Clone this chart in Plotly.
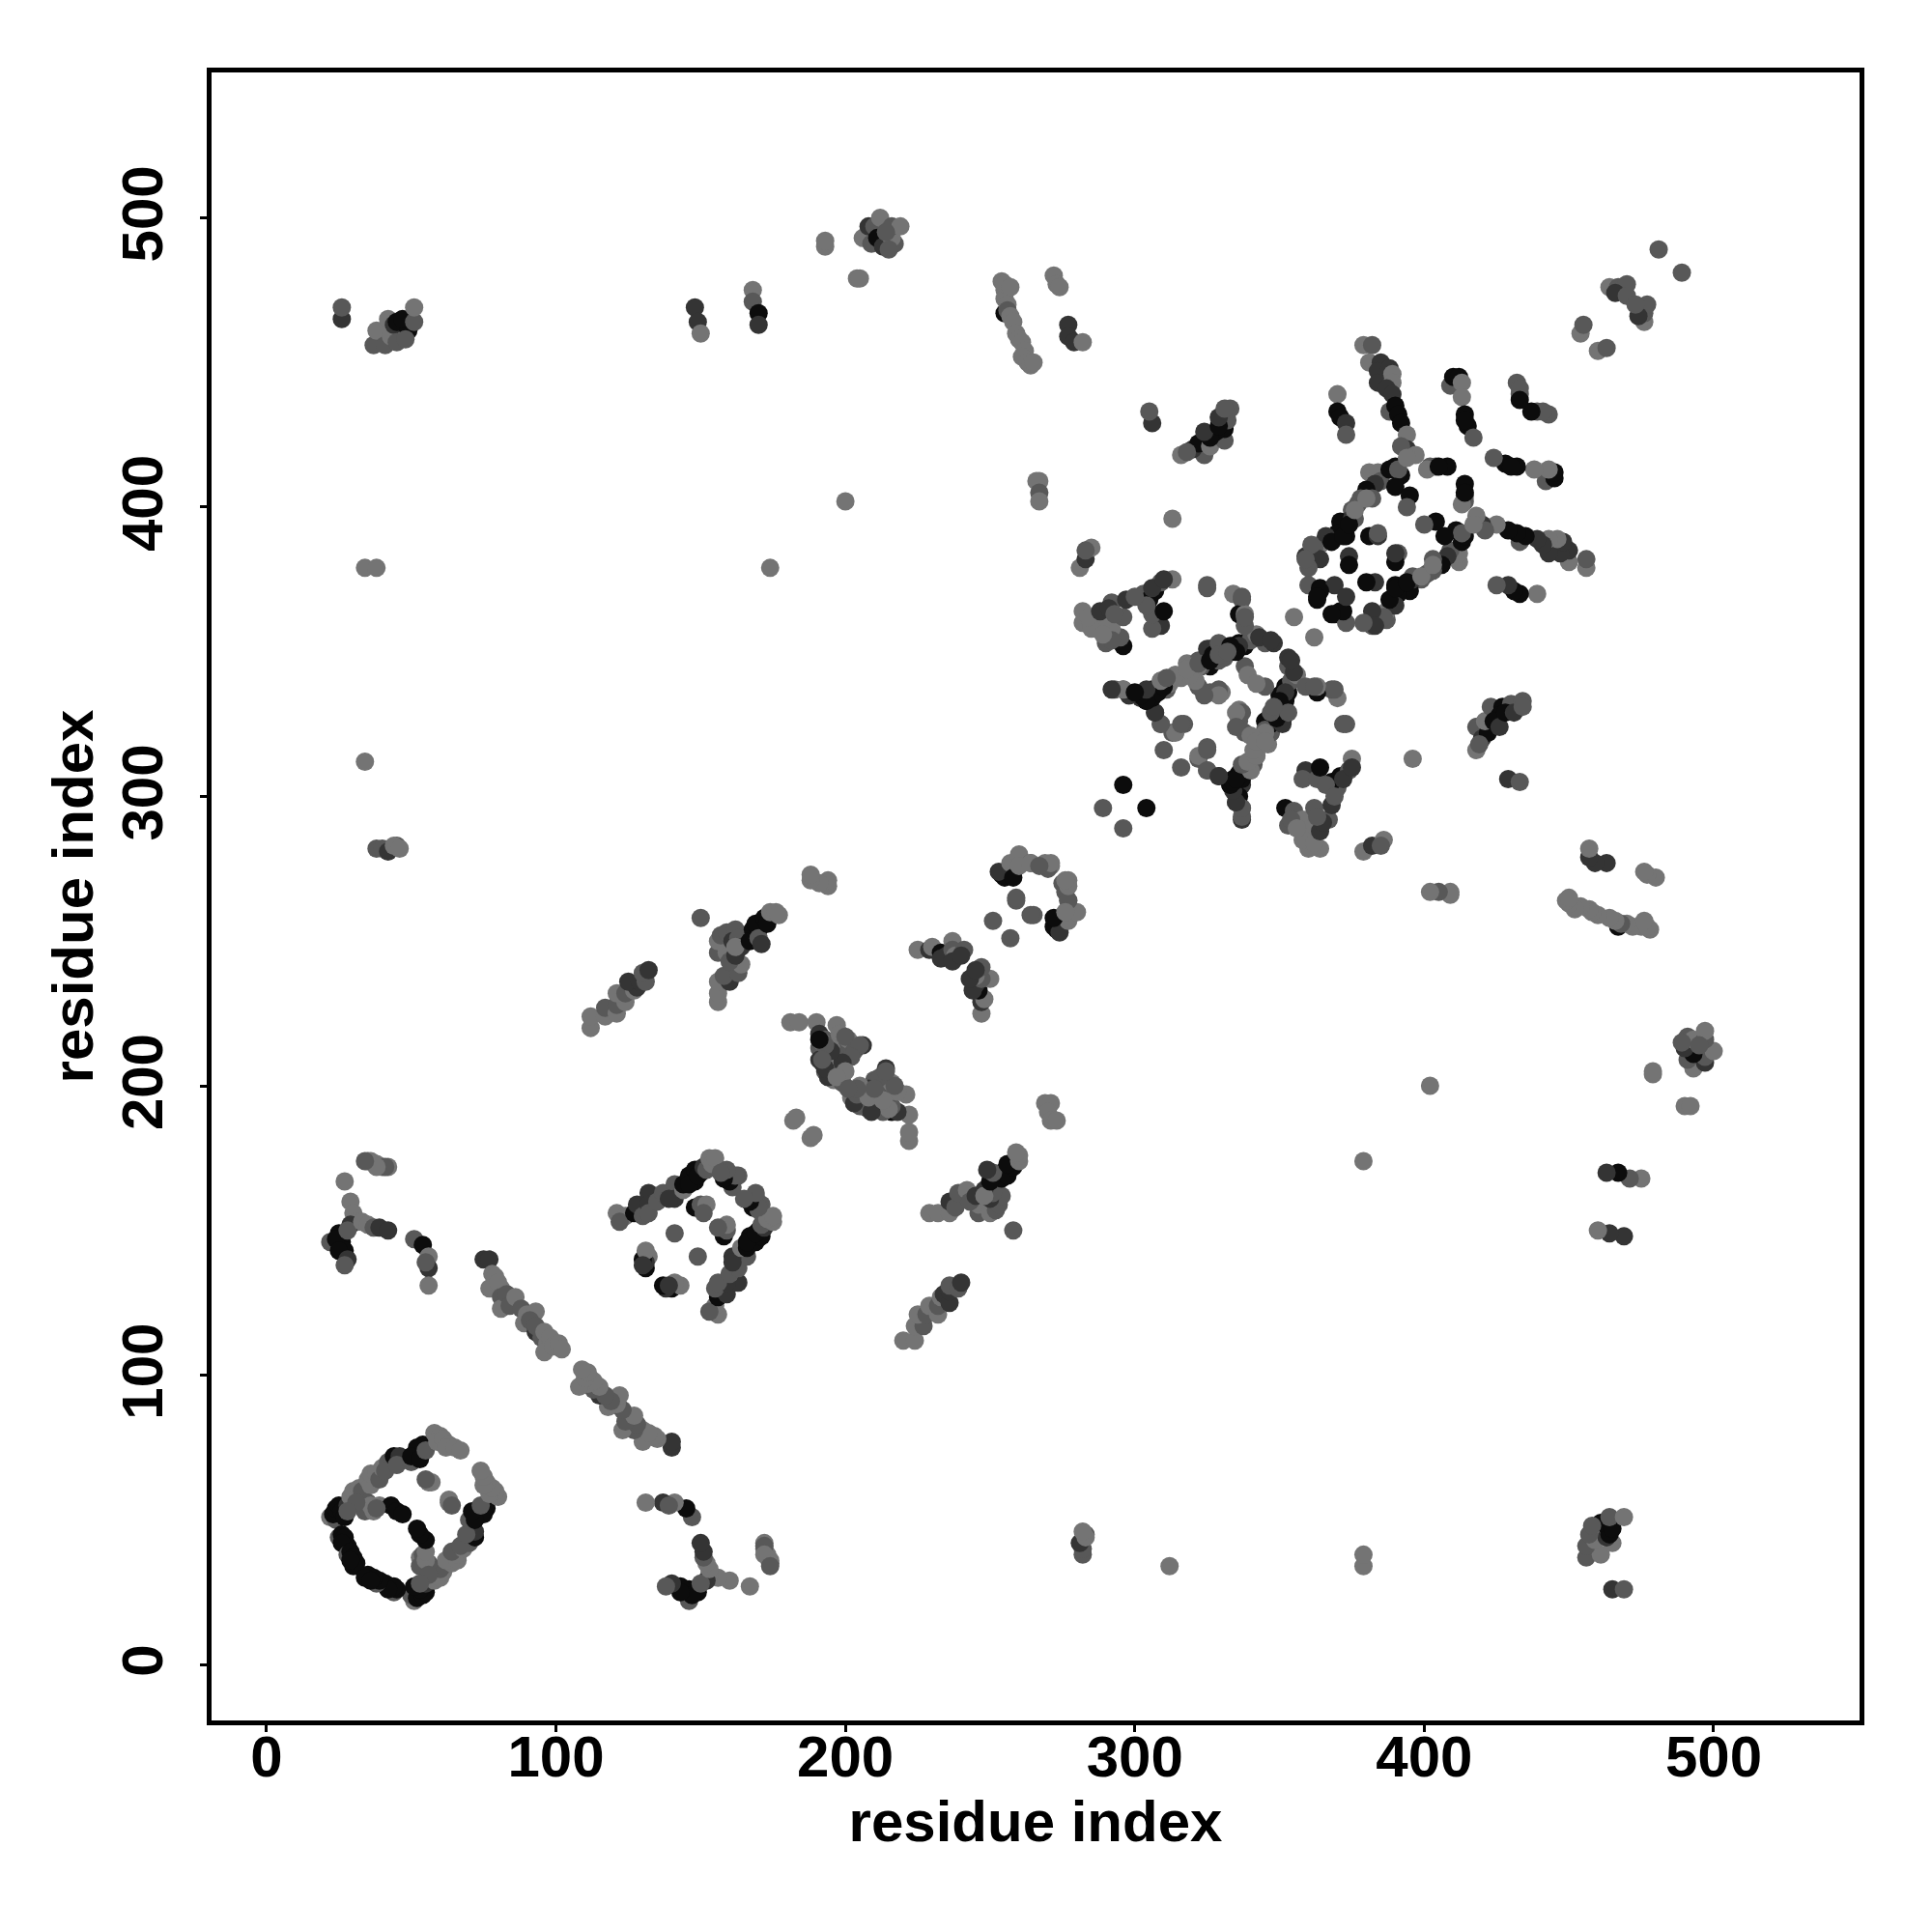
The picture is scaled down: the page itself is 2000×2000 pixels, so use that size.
import plotly.graph_objects as go

# contact pairs: (residue i, residue j, shade level); each contact is shown at (i, j) and (j, i)
shades = ["rgb(116,116,116)", "rgb(88,88,88)", "rgb(52,52,52)", "rgb(12,12,12)"]

ring_a = [(22,51,0),(24,50,1),(23,52,3),(24,54,3),(25,55,3),(26,53,3),(27,51,3),(28,55,2),(25,44,1),(26,45,3),(27,43,3),(28,41,3),(27,44,3),(26,42,3),(28,38,1),
 (29,39,3),(30,37,3),(31,35,3),(30,34,3),(29,36,3),(29,58,0),(30,60,0),(32,61,0),(33,60,1),(35,64,0),(36,62,0),(36,66,0),(38,66,0),(39,64,1),(40,68,0),(42,70,1),(41,67,1),
 (44,72,3),(47,71,3),(46,72,2),(45,69,1),(50,70,1),(52,72,2),(53,74,3),(54,76,3),(52,75,3),(50,72,3),(53,71,3),(55,74,1),(58,80,0),(60,79,0),(59,77,0),(61,78,0),(63,76,0),(62,75,0),(65,75,0),(67,74,0),
 (34,53,1),(35,56,1),(36,55,0),(39,55,0),(43,55,3),(45,53,3),(47,52,3),(56,63,0),(57,63,0),(55,64,1),(31,56,1),(28,53,1),(53,37,0),(54,38,1)]
blob_b = [(22,146,1),(25,149,3),(26,146,3),(27,143,3),(24,147,3),(25,143,3),(28,140,2),(27,138,1),(27,167,0),(29,160,0),(30,156,0),(31,153,0),(29,152,2),(28,150,1),(33,153,0),(35,152,0),(37,151,1),
 (39,151,2),(42,150,2),(35,174,1),(36,174,0),(38,173,0),(40,172,0),(42,172,0),(51,147,1),(54,145,3),(56,141,0),(56,137,2),(55,139,1),(56,131,0),
 (41,172,1),(38,172,0),(34,174,1)]
strand = [(75,140,2),(77,140,2),(78,135,0),(79,134,0),(77,130,0),(81,130,0),(80,132,0),(81,127,1),(81,123,0),(83,128,1),(84,124,1),(86,127,0),(88,123,1),(90,121,0),
 (93,122,0),(89,118,0),(91,119,1),(93,115,2),(93,117,1),(95,113,1),(96,115,0),(97,111,0),(98,113,0),(96,108,0),(99,110,0),(101,111,0),(102,109,0)]
ring_c = [(121,156,0),(124,155,0),(122,153,1),(127,156,3),(128,159,2),(130,155,1),(132,163,2),(132,159,2),(132,156,1),(135,160,1),(137,163,1),(141,166,1),(141,161,2),(139,161,2),(144,164,0),
 (144,166,3),(146,169,3),(148,171,3),(148,167,3),(150,170,3),(146,166,3),(149,169,3),(151,172,2),(152,171,1),(153,175,0),(154,173,0),(155,175,0),(158,170,1),(160,167,3),(163,169,1),(161,165,1),
 (167,160,3),(169,162,1),(168,158,3),(171,159,1),(170,157,1),(148,158,3),(150,159,1),(152,159,0),(151,156,1),(141,149,1),(131,137,3),(132,141,0),(131,139,2),(140,130,3),(143,131,0),(138,130,2)]
blob_d = [(220,112,0),(224,112,0),(224,117,0),(227,117,1),(225,121,0),(228,121,1),(229,124,0),(232,121,0),(232,124,1),(233,127,0),
 (234,128,2),(236,125,2),(236,129,2),(236,131,1),(239,130,1),(240,132,2)]
blob_f = [(269,194,0),(271,194,0),(270,191,0),(271,188,0),(273,188,0)]
blob_g = [(182,188,0),(183,189,0),(181,222,0),(184,222,0),(190,222,0),(191,218,2),(197,221,0),(191,213,1),(193,216,1),(192,208,2),(194,210,0),(192,215,0),
 (193,205,1),(191,209,2),(196,202,0),(194,203,2),(197,204,1),(197,214,0),(199,212,1),(201,216,0),(198,218,0),(203,212,1),(206,214,2),(196,208,0),(200,217,1),(195,213,0),
 (205,214,1),(210,202,1),(208,199,2),(212,195,2),(214,193,1),(216,191,3),(206,193,2),(209,192,1),(199,210,1),(199,204,1),(205,200,0),(203,197,0),(199,201,1)]
blob_i = [(150,258,1),(156,229,0),(156,232,0),(156,236,0),(160,236,2),(158,238,1),(163,239,1),(164,242,0),(156,246,1),(159,246,0),(160,243,1),(162,245,2),(156,250,0),(157,252,1),
 (159,253,1),(162,254,1),(161,250,2),(163,251,1),(164,248,2),(162,248,0),(168,254,3),(170,254,3),(169,256,3),(167,250,3),(170,251,1),(171,249,2),(172,258,3),(173,256,3),(174,260,0),(176,260,0),(177,259,0)]
blob_k = [(225,247,0),(229,247,2),(230,248,0),(233,246,3),(235,245,2),(233,244,2),(237,250,0),(237,247,1),(238,245,0),(237,243,2),(241,247,1),(240,245,2)]
ring_l = [(251,257,1),(254,273,3),(256,274,3),(255,272,3),(253,274,2),(257,277,0),(260,280,0),(264,277,1),(269,277,0),(271,276,0),(275,270,1),(277,271,0),
 (277,264,0),(259,264,1),(265,259,1),(258,272,3),(260,276,0),(276,267,1)]
side_n = [(352,296,3),(355,295,1),(353,290,1),(358,292,0),(361,289,0),(360,282,0),(364,282,0),(358,285,0),(354,292,1),(356,289,0),(362,284,0),(362,296,1),(364,288,2),(367,292,1),(365,291,2),(363,293,1),
 (368,297,2),(370,303,1),(359,309,2),(358,306,1),(363,306,1),(368,305,3),(371,307,3),(374,309,1),(375,313,0),(364,310,3),(372,306,2),(375,310,2),(366,304,1),(369,300,1)]
ring_p = [(293,337,1),(296,337,1),(298,335,2),(302,334,2),(304,333,3),(305,334,3),(306,337,3),(307,336,3),(306,335,3),(309,340,0),(311,337,1),(312,339,0),(314,342,0),(316,341,0),
 (318,346,0),(320,344,1),(322,347,1),(325,347,3),(326,345,3),(323,345,1),(326,351,3),(329,351,1),(322,338,1),(326,336,1),(330,336,0),(307,329,2),(309,325,1),(313,322,1),
 (317,325,1),(310,316,1),(314,322,0),(316,325,1),(309,325,1),(307,329,2),(329,337,1),(329,335,0),(322,345,0),(324,335,1),(321,340,0),(319,342,0),
 (334,370,0),(337,368,1),(336,363,3),(338,363,0),(336,353,3),(338,352,3),(334,352,3),(332,350,3),(340,354,1),(342,356,0),(345,353,1),(348,353,2),(338,345,1),(339,342,0),(319,345,0),
 (325,351,2),(327,349,3),(329,347,1),(335,351,3),(336,352,2),(343,355,2),(347,354,2),(338,359,1),(338,362,1),(337,369,1),(325,373,1),(355,362,0),(325,372,1),(333,350,3),(329,353,1),(331,348,1)]
ring_p_core = [(334,306,3),(336,308,3),(333,304,3),(338,310,3),(335,302,3),(337,304,2),(335,298,2),(337,296,0),(336,300,3),(337,292,2),(296,304,3),(289,296,1),(340,309,0),(342,314,0),(341,311,1),(344,318,0),(346,322,1),(347,326,3),(349,329,1),(350,335,3),(352,333,3),(350,332,1)]
ring_o = [(379,456,0),(382,456,1),(381,450,0),(385,450,2),(384,447,2),(384,443,2),(388,448,2),(389,446,0),(389,443,0),(387,441,2),(389,439,2),(388,433,1),(390,435,3),(391,432,3),(392,429,3),(394,425,0),
 (394,420,2),(392,421,1),(397,418,0),(370,439,0),(370,433,3),(371,431,3),(373,429,2),(373,425,1),(409,442,1),(410,445,3),(412,445,3),(413,443,0),(413,438,0),(414,432,3),(415,428,3),(414,430,3),(417,424,1),
 (439,433,1),(443,432,1),(441,433,1),(437,433,3),(381,412,0),(384,412,0),(385,409,1),(383,408,2),(388,413,3),(390,414,3),(392,411,3),(391,413,1),(394,417,0),(390,407,3),(395,404,3),(394,400,1),(380,406,3),(378,403,1),(382,403,1),
 (375,399,1),(377,401,1),(373,393,3),(371,395,3),(370,391,3),(373,390,3),(375,396,2),(364,387,0),(366,390,2),(368,388,3),(362,386,1),(364,382,2),(359,383,2),(360,379,1),(374,383,2),(374,380,3),(381,390,3),(384,390,2),
 (360,373,1),(364,372,3),(363,368,3),(402,414,1),(404,414,1),(408,414,3),(387,361,1),(401,413,0),(391,384,1),(405,414,3),(382,359,1),(371,364,3),(369,363,3),(376,396,1),(369,373,2),(372,390,3),(374,394,3),(376,399,0),(380,403,0)]
spur_q = [(418,316,0),(418,324,1),(420,320,2),(422,322,3),(419,318,1),(421,326,0),(423,331,1),(427,331,3),(426,328,3),(424,326,3),(426,324,2),(430,332,1),(428,329,3),(431,329,2),(434,333,1),(434,331,1)]
top_left = [(26,465,2),(26,469,1),(37,456,1),(38,461,0),(41,456,1),(43,459,0),(42,465,0),(44,463,2),(45,464,3),(45,457,1),(49,461,3),(47,465,3),(48,458,1),(51,464,1),(51,469,0)]
top_mid = [(148,469,2),(149,464,2),(150,460,0),(168,475,0),(168,471,1),(170,467,3),(170,463,2),(193,490,0),(193,492,0),(204,479,0),(205,479,0),
 (206,493,0),(209,491,1),(208,497,2),(210,497,1),(211,493,3),(213,490,2),(212,500,0),(217,491,1),(216,493,0),(215,489,1),(216,497,1),(219,497,0),(214,495,1)]
top_right = [(255,467,3),(254,478,0),(255,475,0),(255,472,0),(255,477,0),(257,476,0),(256,470,0),(256,468,1),(257,466,0),(258,464,0),(259,460,0),(260,458,0),(261,457,0),(262,454,0),(261,452,0),(263,450,0),(264,449,0),(265,450,0),
 (272,480,0),(273,477,0),(274,476,0),(277,463,2),(277,459,2),(279,457,2),(282,457,0)]
strip_s = [(281,379,0),(283,382,2),(285,386,0),(283,385,1),(267,409,0),(266,409,0),(267,405,1),(267,402,0)]
singles = [(200,402,0),(174,379,0),(34,379,0),(38,379,0),(34,312,0),(313,396,0),(38,282,1),(40,282,1),(42,281,2),(45,283,1),(44,283,0),(46,282,0),
 (306,429,2),(305,433,1),(454,460,0),(455,463,1),(481,489,1),(464,476,0),(467,476,1),(470,477,1),(466,474,2),(470,473,1)]

blobs = [ring_a, blob_b, strand, ring_c, blob_d, blob_f, blob_g, blob_i, blob_k, ring_l, side_n, ring_p, ring_p_core,
         ring_o, spur_q, top_left, top_mid, top_right, strip_s, singles]

x, y, c = [], [], []
for blob in blobs:
    for i, j, level in blob:
        x.append(i); y.append(j); c.append(shades[level])
for blob in blobs:
    for i, j, level in blob:
        x.append(j); y.append(i); c.append(shades[level])

x_ticks = [0, 100, 200, 300, 400, 500]
y_ticks = [0, 100, 200, 300, 400, 500]
axis_title = "residue index"

fig = go.Figure(go.Scatter(x=x, y=y, mode="markers", marker=dict(size=19, color=c, line=dict(width=0)), hoverinfo="skip"))
font = dict(family="Liberation Sans, Arial, sans-serif", size=60, color="black", weight="bold")
title_font = dict(font, size=60)
axis = dict(mirror=True, showline=True, linecolor="black", linewidth=5, ticks="outside", ticklen=7, tickwidth=3,
            tickcolor="black", showgrid=False, zeroline=False, tickfont=font, automargin=False)
fig.update_layout(
    width=1984, height=1984, autosize=False, showlegend=False,
    margin=dict(l=211, r=67, t=67, b=211), plot_bgcolor="white", paper_bgcolor="white",
    xaxis=dict(axis, range=[-19.0, 550.4], tickvals=x_ticks, ticklabelstandoff=-26,
               title=dict(text="<b>%s</b>" % axis_title, font=title_font, standoff=8)),
    yaxis=dict(axis, range=[-19.3, 550.2], tickvals=y_ticks, tickangle=-90, ticklabelstandoff=15, ticklabelshift=5,
               title=dict(text="<b>%s</b>" % axis_title, font=title_font, standoff=0)),
)
fig.write_html("out.html")
